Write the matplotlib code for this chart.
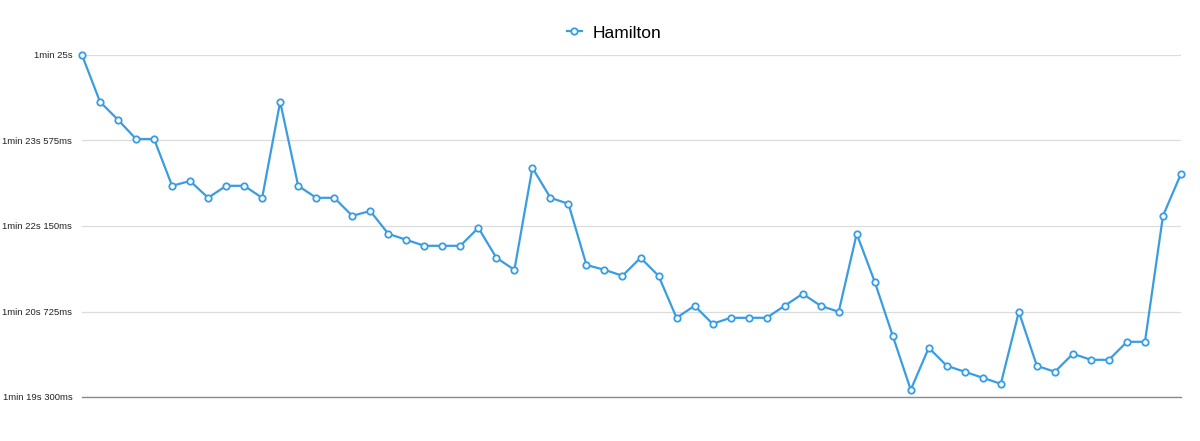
import matplotlib
matplotlib.use("Agg")
import matplotlib.pyplot as plt
from matplotlib.ticker import FixedLocator, FuncFormatter

# Lap times (seconds) for Hamilton
laps = list(range(1, 63))
hamilton = [
    85.00, 84.22, 83.92, 83.60, 83.60, 82.82, 82.90, 82.62, 82.82, 82.82,
    82.62, 84.22, 82.82, 82.62, 82.62, 82.32, 82.40, 82.02, 81.92, 81.82,
    81.82, 81.82, 82.12, 81.62, 81.42, 83.12, 82.62, 82.52, 81.50, 81.42,
    81.32, 81.62, 81.32, 80.62, 80.82, 80.52, 80.62, 80.62, 80.62, 80.82,
    81.02, 80.82, 80.72, 82.02, 81.22, 80.32, 79.42, 80.12, 79.82, 79.72,
    79.62, 79.52, 80.72, 79.82, 79.72, 80.02, 79.92, 79.92, 80.22, 80.22,
    82.32, 83.02,
]
y_ticks = [79.3, 80.725, 82.15, 83.575, 85.0]
series_name = "Hamilton"

plt.rcParams['font.family'] = ['Liberation Sans', 'DejaVu Sans']

fig = plt.figure(figsize=(12, 4.41), dpi=100)
ax = fig.add_axes([82/1200, 44/441, (1181-82)/1200, (397-55)/441])

color = "#3a9de0"
ax.plot(laps, hamilton, color=color, lw=1.6, marker='o', markersize=4.6,
        markerfacecolor='white', markeredgecolor=color, markeredgewidth=1.3,
        clip_on=False, zorder=3, label=series_name)

ax.set_xlim(laps[0], laps[-1])
ax.set_ylim(79.3, 85.0)


def fmt(v, pos):
    total_ms = int(round(v * 1000))
    m = total_ms // 60000
    s = (total_ms % 60000) // 1000
    ms = total_ms % 1000
    txt = f"{m}min {s}s"
    if ms:
        txt += f" {ms}ms"
    return txt


ax.yaxis.set_major_locator(FixedLocator(y_ticks))
ax.yaxis.set_major_formatter(FuncFormatter(fmt))
ax.tick_params(axis='y', length=0, pad=7, labelsize=6.8, labelcolor='#222222')
ax.tick_params(axis='x', length=0, labelbottom=False)
ax.grid(axis='y', color='#dcdcdc', lw=0.9)
ax.set_axisbelow(True)
for side in ['top', 'right', 'left']:
    ax.spines[side].set_visible(False)
ax.spines['bottom'].set_color('#8a8a8a')
ax.spines['bottom'].set_linewidth(1.0)

leg = fig.legend(loc='center', bbox_to_anchor=(614/1200, 1 - 33/441), frameon=False,
                 fontsize=12.5, handlelength=0.9, handletextpad=0.6)

fig.savefig("out.png", dpi=100)
